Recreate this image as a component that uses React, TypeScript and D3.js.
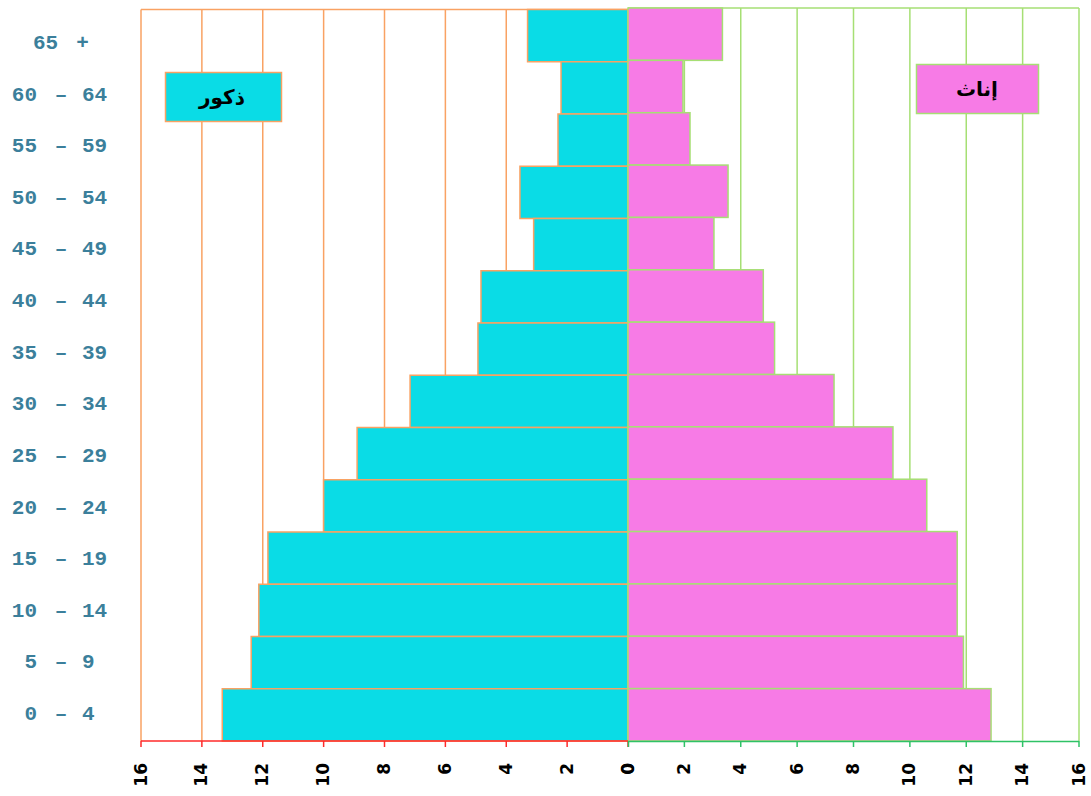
import React from "react";
import * as d3 from "d3";

const ageGroups = ["65 +", "60 - 64", "55 - 59", "50 - 54", "45 - 49", "40 - 44", "35 - 39", "30 - 34", "25 - 29", "20 - 24", "15 - 19", "10 - 14", "5 - 9", "0 - 4"];
const males = [3.3, 2.2, 2.3, 3.55, 3.1, 4.83, 4.93, 7.16, 8.9, 10.0, 11.83, 12.13, 12.38, 13.33];
const females = [3.35, 1.95, 2.2, 3.55, 3.05, 4.8, 5.2, 7.31, 9.4, 10.6, 11.68, 11.68, 11.9, 12.88];
const axisTicks = [0, 2, 4, 6, 8, 10, 12, 14, 16];
const maleLabel = "ذكور";
const femaleLabel = "إناث";

const W = 1091;
const H = 796;

const CYAN = "#0adce6";
const PINK = "#f77be6";
const ORANGE = "#f9a263";
const GREEN = "#a6df74";
const LABEL = "#3b7f9b";

export default function App() {
  const xL = d3.scaleLinear().domain([0, 16]).range([628, 141]);
  const xR = d3.scaleLinear().domain([0, 16]).range([628, 1079]);
  const yL = d3.scaleBand<string>().domain(ageGroups).range([9.5, 741]).padding(0);
  const yR = d3.scaleBand<string>().domain(ageGroups).range([8, 741]).padding(0);
  const yLab = d3.scalePoint<string>().domain(ageGroups).range([43.5, 714.5]);
  const axisY = 741;

  return (
    <svg width={W} height={H} style={{ position: "absolute", left: 0, top: 0, background: "#fff" }}>
      {/* left grid */}
      {axisTicks.filter((t) => t > 0).map((t) => (
        <line key={"gl" + t} x1={xL(t)} x2={xL(t)} y1={yL.range()[0]} y2={axisY} stroke={ORANGE} strokeWidth={1.5} />
      ))}
      <line x1={xL(16)} x2={xL(0)} y1={yL.range()[0]} y2={yL.range()[0]} stroke={ORANGE} strokeWidth={1.5} />
      {/* right grid */}
      {axisTicks.filter((t) => t > 0).map((t) => (
        <line key={"gr" + t} x1={xR(t)} x2={xR(t)} y1={yR.range()[0]} y2={axisY} stroke={GREEN} strokeWidth={1.5} />
      ))}
      <line x1={xR(0)} x2={xR(16)} y1={yR.range()[0]} y2={yR.range()[0]} stroke={GREEN} strokeWidth={1.5} />

      {/* male bars */}
      {ageGroups.map((g, i) => (
        <rect key={"m" + g} x={xL(males[i])} y={yL(g)!} width={xL(0) - xL(males[i])} height={yL.bandwidth()} fill={CYAN} stroke={ORANGE} strokeWidth={1.5} />
      ))}
      {/* female bars */}
      {ageGroups.map((g, i) => (
        <rect key={"f" + g} x={xR(0)} y={yR(g)!} width={xR(females[i]) - xR(0)} height={yR.bandwidth()} fill={PINK} stroke={GREEN} strokeWidth={1.5} />
      ))}

      {/* axes */}
      <line x1={xL(16)} x2={xL(0)} y1={axisY} y2={axisY} stroke="#ff2a2a" strokeWidth={1.5} />
      {axisTicks.map((t) => (
        <line key={"tl" + t} x1={xL(t)} x2={xL(t)} y1={axisY} y2={axisY + 6} stroke="#ff2a2a" strokeWidth={1.5} />
      ))}
      <line x1={xR(0)} x2={xR(16)} y1={axisY + 0.5} y2={axisY + 0.5} stroke="#2fc266" strokeWidth={1.5} />
      {axisTicks.map((t) => (
        <line key={"tr" + t} x1={xR(t) + (t === 0 ? 0.5 : 0)} x2={xR(t) + (t === 0 ? 0.5 : 0)} y1={axisY} y2={axisY + 6} stroke="#2fc266" strokeWidth={1.5} />
      ))}
      {axisTicks.map((t) => (
        <text key={"ll" + t} transform={`translate(${xL(t) - 0.5},763) rotate(-90)`} textAnchor="end" dominantBaseline="central" fontFamily="DejaVu Sans" fontWeight="bold" fontSize={17} fill="#000">
          {t}
        </text>
      ))}
      {axisTicks.map((t) => (
        <text key={"rl" + t} transform={`translate(${xR(t) - 0.5},763) rotate(-90)`} textAnchor="end" dominantBaseline="central" fontFamily="DejaVu Sans" fontWeight="bold" fontSize={17} fill="#000">
          {t}
        </text>
      ))}

      {/* category labels */}
      {ageGroups.map((g) => {
        const y = yLab(g)!;
        const parts = g.split(" - ");
        const common = { fontFamily: "Liberation Mono", fontWeight: "bold" as const, fontSize: 21, fill: LABEL, dominantBaseline: "central" as const };
        if (parts.length === 1) {
          const [num, sign] = g.split(" ");
          return (
            <g key={"c" + g}>
              <text x={33} y={y} textAnchor="start" {...common}>{num}</text>
              <text x={82.5} y={y} textAnchor="middle" {...common}>{sign}</text>
            </g>
          );
        }
        return (
          <g key={"c" + g}>
            <text x={37} y={y} textAnchor="end" {...common}>{parts[0]}</text>
            <text x={61} y={y} textAnchor="middle" {...common}>–</text>
            <text x={82} y={y} textAnchor="start" {...common}>{parts[1]}</text>
          </g>
        );
      })}

      {/* legend boxes */}
      <rect x={165.5} y={72.5} width={116} height={49} fill={CYAN} stroke={ORANGE} strokeWidth={1.5} />
      <text x={222} y={97} textAnchor="middle" dominantBaseline="central" fontFamily="DejaVu Sans" fontWeight="bold" fontSize={20} fill="#000">{maleLabel}</text>
      <rect x={916.5} y={64.5} width={122} height={49} fill={PINK} stroke={GREEN} strokeWidth={1.5} />
      <text x={977} y={89} textAnchor="middle" dominantBaseline="central" fontFamily="DejaVu Sans" fontWeight="bold" fontSize={20} fill="#000">{femaleLabel}</text>
    </svg>
  );
}
